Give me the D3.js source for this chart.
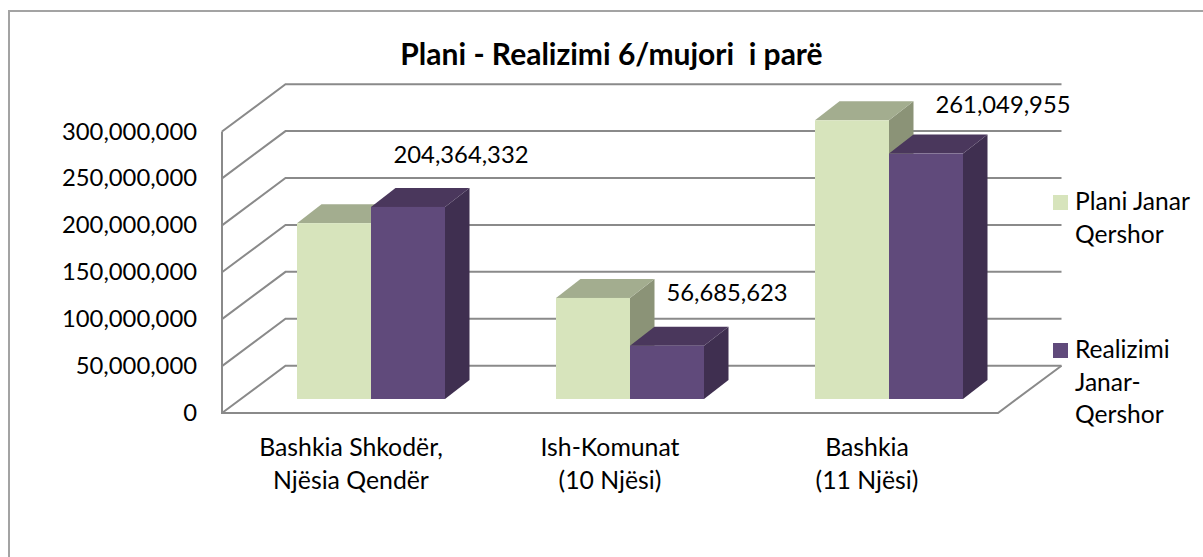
<!DOCTYPE html>
<html><head><meta charset="utf-8">
<script src="https://cdn.jsdelivr.net/npm/d3@7/dist/d3.min.js"></script>
<style>html,body{margin:0;background:#fff}svg{display:block}text{font-family:Lato,sans-serif;fill:#000;white-space:pre}</style>
</head><body><svg id="c" width="1203" height="557"></svg>
<script>
const categories=[["Bashkia Shkodër,","Njësia Qendër"],["Ish-Komunat","(10 Njësi)"],["Bashkia","(11 Njësi)"]];
const planValues=[187000000,107500000,296500000];
const realValues=[204364332,56685623,261049955];
const dataLabels=["204,364,332","56,685,623","261,049,955"];
const yTicks=[0,50000000,100000000,150000000,200000000,250000000,300000000];
const seriesNames=[["Plani Janar","Qershor"],["Realizimi","Janar-","Qershor"]];
const title="Plani - Realizimi 6/mujori  i parë";

const svg=d3.select("#c");
const FS=23.8,FS2=24.6;
svg.append("path").attr("fill","none").attr("stroke","#a3a3a3").attr("stroke-width",2).attr("d","M9,557L9,11L1203,11");
svg.append("text").attr("x",611.5).attr("y",65).attr("text-anchor","middle").attr("font-weight",700).attr("font-size",30).text(title);

const dx=63.5,dy=47.3,left=222,right=998,bottom=413,topY=131.5;
const y=d3.scaleLinear().domain([0,300000000]).range([bottom,topY]);
const fmt=d3.format(",");
const grid="#8a8a8a";
const g=svg.append("g");
g.selectAll("path.g").data(yTicks).join("path").attr("fill","none").attr("stroke",grid).attr("stroke-width",2)
 .attr("d",v=>`M${left},${y(v)}L${left+dx},${y(v)-dy}L${right+dx},${y(v)-dy}`);
g.append("path").attr("fill","none").attr("stroke",grid).attr("stroke-width",2)
 .attr("d",`M${left},${topY}L${left},${bottom}L${right},${bottom}L${right+dx},${bottom-dy}`);

svg.selectAll("text.y").data(yTicks).join("text").attr("text-anchor","end").attr("x",197).attr("y",v=>y(v)+8).attr("font-size",FS).text(fmt);

const x0=d3.scaleBand().domain(d3.range(3)).range([241.5,1018.5]).paddingInner(111/259).paddingOuter(111/518);
const x1=d3.scaleBand().domain([0,1]).range([0,x0.bandwidth()]);
const by=d3.scaleLinear().domain([0,300000000]).range([399,117]);
const bdx=24.5,bdy=19;
const series=[{vals:planValues,front:"#d7e4bc",top:"#a3ad8f",side:"#8b9377"},{vals:realValues,front:"#604a7b",top:"#4a375c",side:"#3f2f50"}];
series.forEach((s,si)=>{
  const gs=svg.append("g");
  s.vals.forEach((v,i)=>{
    const a=x0(i)+x1(si),b=a+x1.bandwidth(),t=by(v),u=by(0);
    gs.append("path").attr("fill",s.side).attr("d",`M${b},${t}L${b+bdx},${t-bdy}L${b+bdx},${u-bdy}L${b},${u}Z`);
    gs.append("path").attr("fill",s.top).attr("d",`M${a},${t}L${a+bdx},${t-bdy}L${b+bdx},${t-bdy}L${b},${t}Z`);
    gs.append("rect").attr("x",a).attr("y",t).attr("width",x1.bandwidth()).attr("height",u-t).attr("fill",s.front);
  });
});
const labelPos=[[461,163],[727,301],[1003,113]];
svg.selectAll("text.d").data(dataLabels).join("text").attr("text-anchor","middle").attr("font-size",FS)
 .attr("x",(d,i)=>labelPos[i][0]).attr("y",(d,i)=>labelPos[i][1]).text(d=>d);
categories.forEach((c,i)=>{
  const t=svg.append("text").attr("text-anchor","middle").attr("font-size",FS2+.2);
  c.forEach((l,k)=>t.append("tspan").attr("x",[351,610,867][i]).attr("y",455.5+k*33).text(l));
});
const legC=["#d7e4bc","#604a7b"];
seriesNames.forEach((n,i)=>{
  svg.append("rect").attr("x",1053).attr("y",[195,343][i]).attr("width",15).attr("height",15).attr("fill",legC[i]);
  n.forEach((l,k)=>svg.append("text").attr("x",1075).attr("y",[210,358][i]+k*32.7).attr("font-size",FS2).text(l));
});
</script></body></html>
